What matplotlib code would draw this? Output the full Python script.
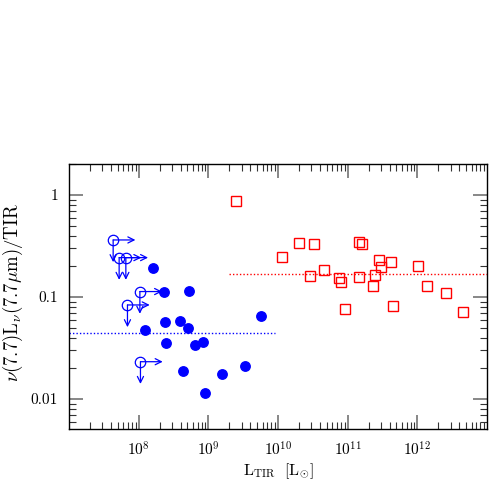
import matplotlib
matplotlib.use("Agg")
import matplotlib.pyplot as plt
from matplotlib.ticker import FixedLocator, FixedFormatter, LogLocator, NullFormatter

# filled blue circles (detections)
det_ltir = [1.58e8, 2.33e8, 5.21e8, 2.35e8, 3.95e8, 5.04e8, 1.25e8, 5.66e9,
            2.46e8, 6.5e8, 8.28e8, 4.27e8, 1.59e9, 3.4e9, 9.06e8]
det_ratio = [0.191, 0.113, 0.115, 0.0573, 0.0586, 0.050, 0.0474, 0.0647,
             0.0354, 0.0338, 0.036, 0.0187, 0.0176, 0.0211, 0.01153]

# open blue circles (upper limits)
lim_ltir = [4.3e7, 5.24e7, 6.54e7, 1.04e8, 6.9e7, 1.06e8]
lim_ratio = [0.362, 0.243, 0.243, 0.113, 0.0835, 0.0232]

# red open squares
sq_ltir = [2.53e9, 1.15e10, 1.97e10, 3.24e10, 2.87e10, 4.62e10, 7.6e10, 8.11e10,
           9.14e10, 1.44e11, 1.59e11, 1.44e11, 2.82e11, 2.98e11, 2.5e11, 2.31e11,
           4.2e11, 4.49e11, 1.03e12, 1.38e12, 2.57e12, 4.56e12]
sq_ratio = [0.88, 0.247, 0.341, 0.329, 0.160, 0.183, 0.152, 0.141,
            0.0768, 0.346, 0.329, 0.156, 0.231, 0.195, 0.164, 0.128,
            0.219, 0.0822, 0.201, 0.128, 0.1087, 0.0708]

# median lines
blue_med, blue_range = 0.044, (1e7, 9e9)
red_med, red_range = 0.167, (2.0e9, 1e13)

plt.rcParams["mathtext.fontset"] = "cm"
plt.rcParams["font.family"] = ["cmr10", "DejaVu Serif"]
plt.rcParams["axes.formatter.use_mathtext"] = True

fig = plt.figure(figsize=(4.98, 4.98), dpi=100)
ax = fig.add_axes([0.1386, 0.138, 0.978 - 0.1386, 0.6707 - 0.138])

ax.plot(blue_range, [blue_med] * 2, color="blue", ls=(0, (1, 1.5)), lw=1.0)
ax.plot(red_range, [red_med] * 2, color="red", ls=(0, (1, 1.5)), lw=1.0)

ax.plot(det_ltir, det_ratio, "o", color="blue", ms=6.8, mec="blue", ls="none")
ax.plot(sq_ltir, sq_ratio, "s", mfc="none", mec="red", ms=6.5, mew=1.0, ls="none")
ax.plot(lim_ltir, lim_ratio, "o", mfc="none", mec="blue", ms=7.5, mew=0.9, ls="none")

# upper-limit arrows: right and down from each open circle
arrow_len = 16  # points
arrow_kw = dict(arrowstyle="<-", color="blue", lw=0.9, shrinkA=0, shrinkB=0,
                mutation_scale=11)
for x, y in zip(lim_ltir, lim_ratio):
    ax.annotate("", xy=(x, y), xycoords="data",
                xytext=(arrow_len, 0), textcoords="offset points",
                arrowprops=arrow_kw)
    ax.annotate("", xy=(x, y), xycoords="data",
                xytext=(0, -arrow_len), textcoords="offset points",
                arrowprops=arrow_kw)

ax.set_xscale("log")
ax.set_yscale("log")
ax.set_xlim(1e7, 1e13)
ax.set_ylim(0.00505, 2.01)

ax.xaxis.set_major_locator(FixedLocator([1e8, 1e9, 1e10, 1e11, 1e12]))
ax.xaxis.set_major_formatter(FixedFormatter([r"$10^{8}$", r"$10^{9}$", r"$10^{10}$",
                                             r"$10^{11}$", r"$10^{12}$"]))
ax.xaxis.set_minor_locator(LogLocator(base=10, subs=range(2, 10), numticks=20))
ax.xaxis.set_minor_formatter(NullFormatter())
ax.yaxis.set_major_locator(FixedLocator([0.01, 0.1, 1]))
ax.yaxis.set_major_formatter(FixedFormatter(["0.01", "0.1", "1"]))
ax.yaxis.set_minor_locator(LogLocator(base=10, subs=range(2, 10), numticks=20))
ax.yaxis.set_minor_formatter(NullFormatter())

ax.tick_params(which="both", direction="in", top=True, right=True, labelsize=11)
ax.tick_params(which="major", length=10, width=1.2, color="0.45", pad=8)
ax.tick_params(which="minor", length=5, width=0.8, color="0.2")
for s in ax.spines.values():
    s.set_linewidth(1.0)

ax.set_xlabel(r"$\mathrm{L_{TIR}}\ \ [\mathrm{L}_{\odot}]$", fontsize=11.5, labelpad=2)
ax.set_ylabel(r"$\nu(7.7)\mathrm{L}_{\nu}(7.7\mu\mathrm{m})/\mathrm{TIR}$", fontsize=13.5)
ax.yaxis.set_label_coords(-0.105, 0.515)

fig.savefig("out.png", dpi=100)
